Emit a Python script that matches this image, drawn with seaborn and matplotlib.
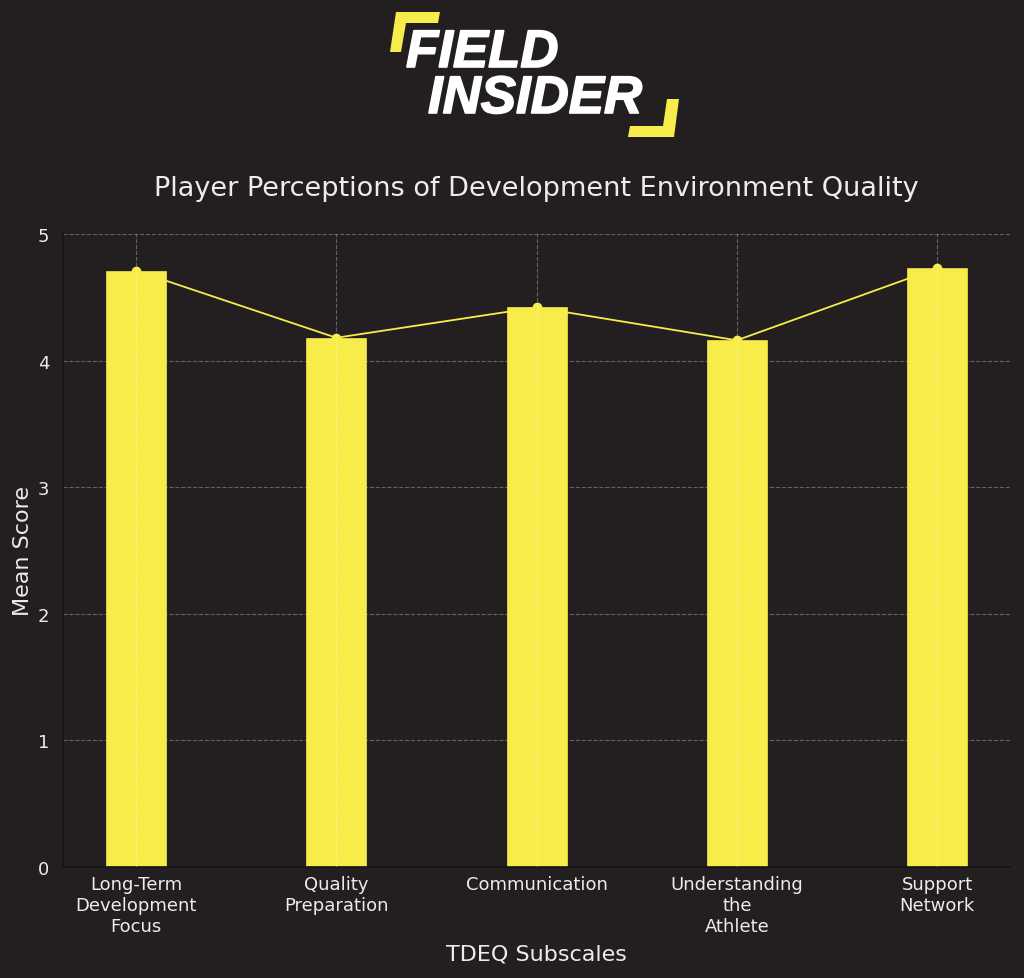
import pandas as pd
import numpy as np
import matplotlib.pyplot as plt
import matplotlib.patheffects as pe
from matplotlib.patches import Polygon
import seaborn as sns

# values
subscales = ['Long-Term\nDevelopment\nFocus', 'Quality\nPreparation', 'Communication',
             'Understanding\nthe\nAthlete', 'Support\nNetwork']
mean_scores = [4.71, 4.18, 4.42, 4.16, 4.73]
y_ticks = [0, 1, 2, 3, 4, 5]

bg = '#231f20'
yellow = '#f7ec4a'
text_col = '#ececec'

df = pd.DataFrame({'subscale': subscales, 'score': mean_scores})

sns.set_theme(style='dark')
plt.rcParams['font.family'] = ['DejaVu Sans']

fig = plt.figure(figsize=(10.24, 9.79), dpi=100, facecolor=bg)
ax = fig.add_axes([0.0615, 0.1134, 0.925, 0.6466])
ax.set_facecolor(bg)

sns.barplot(data=df, x='subscale', y='score', color=yellow, width=0.3,
            saturation=1, edgecolor=yellow, linewidth=0.5, ax=ax, zorder=2)
sns.pointplot(data=df, x='subscale', y='score', color=yellow, markers='o',
              markersize=6, linewidth=1.3, ax=ax, zorder=2.5)

ax.set_xlim(-0.365, len(subscales) - 1 + 0.365)
ax.set_ylim(0, 5)
ax.set_yticks(y_ticks)

ax.set_axisbelow(True)
ax.grid(True, color='white', alpha=0.3, linestyle='--', linewidth=0.8)
ax.xaxis.set_zorder(3)

ax.set_title('Player Perceptions of Development Environment Quality',
             fontsize=19.5, color=text_col, pad=28)
ax.set_xlabel('TDEQ Subscales', fontsize=16, color=text_col, labelpad=6)
ax.set_ylabel('Mean Score', fontsize=16, color=text_col, labelpad=3)

ax.tick_params(axis='x', colors=text_col, labelsize=13, length=0, pad=6)
ax.tick_params(axis='y', colors=text_col, labelsize=13, length=4, width=1, pad=6)
for side in ['top', 'right']:
    ax.spines[side].set_visible(False)
for side in ['left', 'bottom']:
    ax.spines[side].set_visible(True)
    ax.spines[side].set_color('#161314')
    ax.spines[side].set_linewidth(1.2)

# logo
H = 979.0
W = 1024.0
def fc(x, y):
    return (x / W, 1 - y / H)

heavy = [pe.withStroke(linewidth=1.2, foreground='white')]
fig.text(*fc(406, 54), 'FIELD', fontsize=38, fontweight='bold', fontstyle='italic',
         family='Liberation Sans', color='white', va='center', ha='left', path_effects=heavy)
fig.text(*fc(428, 100), 'INSIDER', fontsize=38, fontweight='bold', fontstyle='italic',
         family='Liberation Sans', color='white', va='center', ha='left', path_effects=heavy)
top_left = [fc(396, 13), fc(440, 13), fc(438, 24), fc(406, 24), fc(401, 53), fc(390, 53)]
bottom_right = [fc(667, 100), fc(679, 100), fc(674, 138), fc(628, 138), fc(630, 127), fc(663, 127)]
for pts in [top_left, bottom_right]:
    fig.patches.append(Polygon(pts, closed=True, transform=fig.transFigure,
                               facecolor=yellow, edgecolor='none'))

fig.savefig('out.png', dpi=100, facecolor=bg)
